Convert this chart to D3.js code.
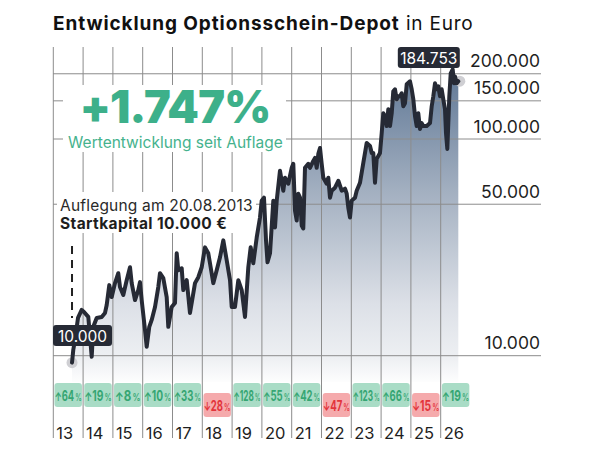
<!DOCTYPE html>
<html><head><meta charset="utf-8">
<script src="https://cdn.jsdelivr.net/npm/d3@7"></script>
<style>body{margin:0;background:#fff}svg{display:block}</style>
</head><body>
<script>
// ---- data ----
const dates = [2013.628,2013.671,2013.728,2013.829,2013.953,2014.030,2014.174,2014.289,2014.342,2014.456,2014.624,2014.735,2014.792,2014.879,2014.960,
2015.070,2015.181,2015.238,2015.349,2015.463,2015.574,2015.631,2015.742,2015.852,2015.909,2015.966,
2016.077,2016.134,2016.221,2016.302,2016.413,2016.523,2016.580,2016.691,2016.805,2016.859,2016.973,
2017.084,2017.141,2017.195,2017.309,2017.362,2017.477,2017.587,2017.644,2017.755,2017.866,2017.980,
2018.091,2018.201,2018.258,2018.369,2018.483,2018.594,2018.705,2018.819,2018.930,2018.987,
2019.097,2019.208,2019.322,2019.433,2019.544,2019.624,2019.711,2019.826,2019.936,2019.993,
2020.070,2020.138,2020.188,2020.272,2020.383,2020.440,2020.497,2020.607,2020.664,2020.718,2020.775,2020.886,2021.000,
2021.054,2021.111,2021.168,2021.221,2021.279,2021.336,2021.389,2021.446,2021.557,2021.614,2021.725,2021.782,2021.839,2021.893,2021.950,
2022.007,2022.060,2022.174,2022.228,2022.285,2022.342,2022.453,2022.564,2022.678,2022.789,2022.846,2022.899,2022.956,
2023.013,2023.124,2023.181,2023.292,2023.403,2023.517,2023.628,2023.685,2023.738,2023.795,2023.852,2023.963,
2024.020,2024.074,2024.131,2024.188,2024.242,2024.299,2024.356,2024.409,2024.466,2024.523,2024.577,2024.634,2024.691,2024.745,2024.802,2024.859,2024.970,
2025.027,2025.081,2025.138,2025.195,2025.248,2025.305,2025.362,2025.416,2025.530,2025.641,2025.698,2025.752,2025.809,2025.866,2025.919,2025.976,
2026.033,2026.087,2026.144,2026.178,2026.222,2026.255,2026.289,2026.336,2026.403,2026.446,2026.480,2026.537,2026.591];
const values = [9290,10650,11840,14940,16260,15910,15100,9890,13590,14940,15100,15750,17140,21170,18650,
21620,24030,20730,19050,22320,25600,21620,18060,20080,21850,18060,
13160,11000,13590,14630,16780,20730,24030,22790,18650,13590,16780,
17510,29690,24800,25330,20080,22320,15750,17510,21620,23030,25600,
31620,29690,26710,21620,24800,28460,34050,27570,22320,16780,
16780,22320,20080,15100,25600,31620,26710,35150,43420,51950,
53620,34050,26990,29690,51950,39060,51950,71340,64160,57730,66230,62170,73620,
76790,46740,42060,55930,53620,39900,38660,73620,76790,73620,79260,81810,73620,85350,90940,
76790,66230,62170,66230,53620,57730,59600,64160,57730,58970,55930,48250,43420,
51950,53620,57730,62830,77610,95880,92880,86260,86260,62830,80950,86260,
106500,131600,127500,114700,137300,114700,131600,166100,169600,152600,157500,157500,162600,141700,146300,178800,184600,
169600,152600,127500,114700,131600,111200,118400,114700,114700,118400,141700,157500,180700,169600,175100,157500,
169600,152600,137300,106500,90000,118400,157500,200800,209500,180700,194500,180700,184753];
const yearLabels = ["13","14","15","16","17","18","19","20","21","22","23","24","25","26"];
const yearReturns = [64,19,8,10,33,-28,128,55,42,-47,123,66,-15,19];
const yTicks = [10000,50000,100000,150000,200000];
const startValueLabel = "10.000";
const endValueLabel = "184.753";

const fmt = d3.formatLocale({decimal:",",thousands:".",grouping:[3],currency:["","€"]}).format(",d");
const FONT = "Inter, 'Noto Sans', sans-serif";

const svg = d3.select("body").append("svg").attr("width",611).attr("height",455)
  .style("font-family",FONT);

const x = d3.scaleLinear().domain([2013,2027]).range([53.3,53.3+14*29.8]);
const y = d3.scaleLog().domain([10000,100000]).range([355.7,139]);
const pts = dates.map((d,i)=>({t:d,v:values[i]}));

// gradient
const defs = svg.append("defs");
const g = defs.append("linearGradient").attr("id","ag").attr("gradientUnits","userSpaceOnUse")
  .attr("x1",0).attr("x2",0).attr("y1",60).attr("y2",385);
[[0,"#5a7392"],[0.4,"#a2afc0"],[0.75,"#dce0e7"],[0.92,"#eef0f3"],[1,"#ffffff"]].forEach(s=>
  g.append("stop").attr("offset",s[0]).attr("stop-color",s[1]));

// area
svg.append("path").datum(pts)
  .attr("d",d3.area().x(d=>x(d.t)).y0(382).y1(d=>y(d.v)))
  .attr("fill","url(#ag)");

// gridlines
svg.append("g").selectAll("line").data(yTicks).join("line")
  .attr("x1",53).attr("x2",541).attr("y1",d=>y(d)).attr("y2",d=>y(d))
  .attr("stroke","#8c8c8c").attr("stroke-width",1);
svg.append("g").selectAll("line").data(d3.range(2013,2027)).join("line")
  .attr("x1",d=>x(d)).attr("x2",d=>x(d)).attr("y1",47).attr("y2",438)
  .attr("stroke","#8c8c8c").attr("stroke-width",1);

// y labels
svg.append("g").selectAll("text").data(yTicks).join("text")
  .attr("x",540).attr("y",d=>y(d)-6.5).attr("text-anchor","end")
  .attr("font-size",17.5).attr("fill","#1e1e1e").text(d=>fmt(d));

// annotation boxes
svg.append("rect").attr("x",63).attr("y",85).attr("width",223).attr("height",67).attr("fill","#fff");
svg.append("rect").attr("x",57).attr("y",192).attr("width",199).attr("height",41).attr("fill","#fff");

svg.append("text").attr("x",175).attr("y",122.5).attr("text-anchor","middle")
  .attr("font-size",45).attr("font-weight",900).attr("fill","#3db08a").attr("letter-spacing",-0.8)
  .text("+1.747%");
svg.append("text").attr("x",175.5).attr("y",148).attr("text-anchor","middle")
  .attr("font-size",15.5).attr("fill","#45b28d").text("Wertentwicklung seit Auflage");
svg.append("text").attr("x",60).attr("y",211)
  .attr("font-size",15.5).attr("fill","#2a2a2a").attr("letter-spacing",0.2).text("Auflegung am 20.08.2013");
svg.append("text").attr("x",60).attr("y",229)
  .attr("font-size",15.5).attr("font-weight",700).attr("fill","#1e1e1e").attr("letter-spacing",0.4).text("Startkapital 10.000 €");

// dashed start marker
const first = pts[0], last = pts[pts.length-1];
svg.append("line").attr("x1",x(first.t)).attr("x2",x(first.t)).attr("y1",246).attr("y2",318)
  .attr("stroke","#222").attr("stroke-width",2).attr("stroke-dasharray","8,6");

// dots
svg.append("circle").attr("cx",x(first.t)).attr("cy",y(first.v)).attr("r",5.5).attr("fill","#cfcfd3");
svg.append("circle").attr("cx",x(last.t)+1.5).attr("cy",y(last.v)).attr("r",5.5).attr("fill","#cfcfd3");

// line
svg.append("path").datum(pts)
  .attr("d",d3.line().x(d=>x(d.t)).y(d=>y(d.v)))
  .attr("fill","none").attr("stroke","#262a35").attr("stroke-width",4)
  .attr("stroke-linejoin","round").attr("stroke-linecap","round");

// value labels
function valLabel(cx, top, w, txt){
  svg.append("rect").attr("x",cx-w/2).attr("y",top).attr("width",w).attr("height",21).attr("rx",3).attr("fill","#262a35");
  svg.append("text").attr("x",cx).attr("y",top+16.5).attr("text-anchor","middle")
    .attr("font-size",15.5).attr("fill","#fff").text(txt);
}
valLabel(x(first.t)+10.5, 325, 59, startValueLabel);
valLabel(x(last.t)-29.5, 47, 62, endValueLabel);

// badges
const bw = 27.5;
const bg = svg.append("g");
yearReturns.forEach((r,i)=>{
  const cx = x(2013+i)+14.9;
  const up = r>=0;
  const top = up?383:393;
  bg.append("rect").attr("x",cx-bw/2).attr("y",top).attr("width",bw).attr("height",24).attr("rx",3)
    .attr("fill",up?"#a9dcc6":"#f5aaac");
  const t = bg.append("text").attr("text-anchor","middle").attr("fill",up?"#36a673":"#e3343b");
  t.append("tspan").attr("font-size",12).attr("font-weight",700).text(up?"↑":"↓");
  t.append("tspan").attr("font-size",14.5).attr("font-weight",700).text(Math.abs(r));
  t.append("tspan").attr("font-size",10).attr("font-weight",600).attr("dx",1.5).text("%");
  const len = t.node().getComputedTextLength();
  const s = Math.min(0.8, 26/len);
  t.attr("transform",`translate(${cx},${top+17.5}) scale(${s},1)`);
});

// year labels
svg.append("g").selectAll("text").data(yearLabels).join("text")
  .attr("x",(d,i)=>x(2013+i)+3).attr("y",438.5)
  .attr("font-size",16.5).attr("fill","#1e1e1e").text(d=>d);

// title
const tt = svg.append("text").attr("x",53).attr("y",30).attr("font-size",19).attr("fill","#111");
tt.append("tspan").attr("font-weight",700).attr("letter-spacing",0.9).text("Entwicklung Optionsschein-Depot");
tt.append("tspan").attr("font-weight",400).attr("letter-spacing",0.8).text(" in Euro");
</script>
</body></html>
